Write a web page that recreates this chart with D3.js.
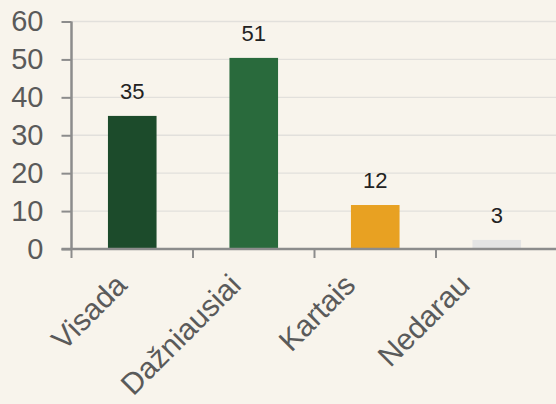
<!DOCTYPE html>
<html>
<head>
<meta charset="utf-8">
<script src="https://cdn.jsdelivr.net/npm/d3@7"></script>
<style>
    body { margin: 0; background: #f8f4ec; }
    svg { display: block; font-family: "Liberation Sans", Arial, sans-serif; }
</style>
</head>
<body>
<div class="wrapper-svg"></div>
<script>
var categories = ['Visada', 'Dažniausiai', 'Kartais', 'Nedarau'];
var values = [35.1, 50.4, 11.6, 2.4];
var valueLabels = ['35', '51', '12', '3'];
var colors = ['#1c4b2b', '#296a3c', '#e8a122', '#e4e4e4'];
var yTicks = [0, 10, 20, 30, 40, 50, 60];

var width = 556, height = 404;
var plotLeft = 71.5, plotRight = 557.5, plotTop = 21.5, plotBottom = 249;

var svg = d3.select('.wrapper-svg')
    .append('svg')
    .attr('width', width)
    .attr('height', height);

svg.append('rect')
    .attr('width', width)
    .attr('height', height)
    .attr('fill', '#f8f4ec');

var x = d3.scaleBand()
    .domain(categories)
    .range([plotLeft, plotRight])
    .paddingInner(0.6)
    .paddingOuter(0.3);

var y = d3.scaleLinear()
    .domain([0, 60])
    .range([plotBottom, plotTop]);

// category labels sit on a slightly tighter spacing than the bars
var xLabel = d3.scalePoint()
    .domain(categories)
    .range([128, 471]);

// grid lines
svg.append('g')
    .selectAll('line')
    .data(yTicks.slice(1))
    .join('line')
    .attr('x1', plotLeft)
    .attr('x2', width)
    .attr('y1', d => y(d))
    .attr('y2', d => y(d))
    .attr('stroke', '#e2e0dc')
    .attr('stroke-width', 1.3);

// bars
svg.append('g')
    .selectAll('rect')
    .data(categories)
    .join('rect')
    .attr('x', d => x(d))
    .attr('width', x.bandwidth())
    .attr('y', (d, i) => y(values[i]))
    .attr('height', (d, i) => plotBottom - y(values[i]))
    .attr('fill', (d, i) => colors[i]);

// value labels
svg.append('g')
    .selectAll('text')
    .data(categories)
    .join('text')
    .text((d, i) => valueLabels[i])
    .attr('x', d => x(d) + x.bandwidth() / 2)
    .attr('y', (d, i) => y(values[i]) - 17)
    .attr('text-anchor', 'middle')
    .style('font-size', '22px')
    .attr('fill', '#222');

// y axis
var yAxis = svg.append('g')
    .attr('transform', 'translate(' + plotLeft + ',0)')
    .call(d3.axisLeft(y).tickValues(yTicks).tickSize(10).tickPadding(18));
yAxis.selectAll('line').attr('stroke', '#8c8c8c').attr('stroke-width', 2);
yAxis.select('.domain').attr('stroke', '#8c8c8c').attr('stroke-width', 2.5).attr('d', 'M0,' + plotTop + 'V' + plotBottom);
yAxis.selectAll('text')
    .style('font-size', '29px')
    .style('font-family', '"Liberation Sans", Arial, sans-serif')
    .attr('fill', '#5a5a5a');

// x axis
var xAxis = svg.append('g')
    .attr('transform', 'translate(0,' + plotBottom + ')')
    .call(d3.axisBottom(xLabel).tickSize(0));
xAxis.select('.domain').attr('stroke', '#8c8c8c').attr('stroke-width', 2.5).attr('d', 'M' + (plotLeft - 10) + ',0H' + width);
xAxis.selectAll('.tick line').remove();

svg.append('g')
    .selectAll('line')
    .data(d3.range(categories.length))
    .join('line')
    .attr('x1', i => plotLeft + i * x.step())
    .attr('x2', i => plotLeft + i * x.step())
    .attr('y1', plotBottom)
    .attr('y2', plotBottom + 9)
    .attr('stroke', '#8c8c8c')
    .attr('stroke-width', 2);

xAxis.selectAll('text')
    .attr('x', 0)
    .attr('y', 0)
    .attr('dy', 0)
    .attr('transform', 'translate(0,38) rotate(-45)')
    .attr('text-anchor', 'end')
    .style('font-size', '30px')
    .style('font-family', '"Liberation Sans", Arial, sans-serif')
    .attr('fill', '#5a5a5a');
</script>
</body>
</html>
